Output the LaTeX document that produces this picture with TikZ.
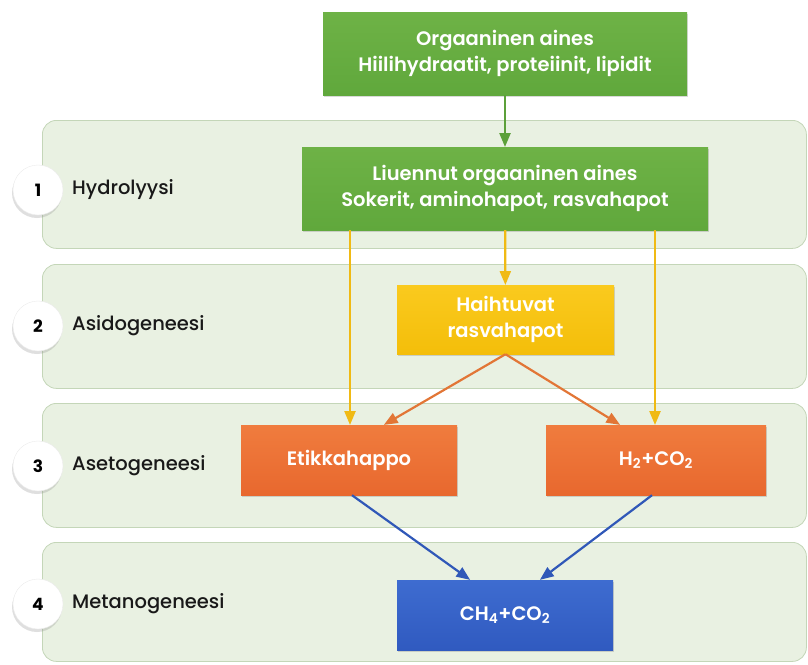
\documentclass[tikz,border=0pt]{standalone}
\usepackage{fontspec}
\setmainfont{Poppins}
\newfontfamily\medfont{Poppins Medium}
\newfontfamily\semifont{Poppins SemiBold}
\usepackage{tikz}
\usetikzlibrary{arrows,shapes,positioning,shadows}
\usepackage{xcolor}
\definecolor{bgband}{RGB}{233,241,226}
\definecolor{bgbandline}{RGB}{196,214,184}
\definecolor{bxgreen}{RGB}{96,168,60}
\definecolor{bxgreentop}{RGB}{110,178,70}
\definecolor{bxyellow}{RGB}{244,190,10}
\definecolor{bxyellowtop}{RGB}{250,202,30}
\definecolor{bxorange}{RGB}{232,104,46}
\definecolor{bxorangetop}{RGB}{240,124,62}
\definecolor{bxblue}{RGB}{48,90,192}
\definecolor{bxbluetop}{RGB}{62,108,208}
\definecolor{arrgreen}{RGB}{92,160,58}
\definecolor{arryellow}{RGB}{240,186,20}
\definecolor{arrorange}{RGB}{226,118,54}
\definecolor{arrblue}{RGB}{48,88,184}
\tikzstyle{stageband} = [rectangle, rounded corners=14pt, draw=bgbandline, fill=bgband, line width=0.8pt, anchor=north west]
\tikzstyle{stagenum} = [circle, minimum size=50pt, fill=white, draw=black!8, font=\fontsize{17}{19}\selectfont\bfseries, drop shadow={shadow xshift=-1pt, shadow yshift=-3pt, opacity=0.25}]
\tikzstyle{stagename} = [anchor=west, inner sep=0pt, text=black!90, font=\fontsize{19.5}{21}\medfont]
\tikzstyle{procbox} = [rectangle, text centered, align=center, text=white, font=\fontsize{19.5}{26}\semifont, drop shadow={shadow xshift=1pt, shadow yshift=-2pt, opacity=0.3}]
\tikzstyle{flow} = [line width=2.2pt, ->, >=triangle 45]

\begin{document}
\begin{tikzpicture}[x=1pt, y=1pt]
\useasboundingbox (0,0) rectangle (808,-664);
% stage bands
\node[stageband, minimum width=764pt, minimum height=128pt] (band1) at (42,-120) {};
\node[stageband, minimum width=764pt, minimum height=124pt] (band2) at (42,-264) {};
\node[stageband, minimum width=764pt, minimum height=124pt] (band3) at (42,-403) {};
\node[stageband, minimum width=764pt, minimum height=119pt] (band4) at (42,-542) {};
% stage numbers and names
\node[stagenum] (n1) at (38,-190) {1};
\node[stagenum] (n2) at (38,-326) {2};
\node[stagenum] (n3) at (38,-466) {3};
\node[stagenum] (n4) at (38,-604) {4};
\node[stagename] (l1) at (72,-190) {Hydrolyysi};
\node[stagename] (l2) at (72,-326) {Asidogeneesi};
\node[stagename] (l3) at (72,-466) {Asetogeneesi};
\node[stagename] (l4) at (72,-604) {Metanogeneesi};
% boxes
\node[procbox, minimum width=364pt, minimum height=83pt, top color=bxgreentop, bottom color=bxgreen] (organic) at (505,-53.5) {Orgaaninen aines\\Hiilihydraatit, proteiinit, lipidit};
\node[procbox, minimum width=406pt, minimum height=83pt, top color=bxgreentop, bottom color=bxgreen] (dissolved) at (505,-188.5) {Liuennut orgaaninen aines\\Sokerit, aminohapot, rasvahapot};
\node[procbox, minimum width=217pt, minimum height=69pt, top color=bxyellowtop, bottom color=bxyellow] (vfa) at (505.5,-319.5) {Haihtuvat\\rasvahapot};
\node[procbox, minimum width=216pt, minimum height=70pt, top color=bxorangetop, bottom color=bxorange] (acetic) at (349,-460) {Etikkahappo};
\node[procbox, minimum width=220pt, minimum height=70pt, top color=bxorangetop, bottom color=bxorange] (hydrogen) at (656,-460) {H\textsubscript{2}+CO\textsubscript{2}};
\node[procbox, minimum width=216pt, minimum height=70pt, top color=bxbluetop, bottom color=bxblue] (methane) at (505,-615) {CH\textsubscript{4}+CO\textsubscript{2}};
% arrows
\draw[flow, color=arrgreen] (organic) -- (dissolved);
\draw[flow, color=arryellow] (dissolved.south -| 350,0) -- (acetic.north -| 350,0);
\draw[flow, color=arryellow] (dissolved) -- (vfa);
\draw[flow, color=arryellow] (dissolved.south -| 655,0) -- (hydrogen.north -| 655,0);
\draw[flow, color=arrorange] (vfa.south) -- (acetic.north -| 384,0);
\draw[flow, color=arrorange] (vfa.south) -- (hydrogen.north -| 620,0);
\draw[flow, color=arrblue] (acetic.south -| 352,0) -- (methane.north -| 470,0);
\draw[flow, color=arrblue] (hydrogen.south -| 652,0) -- (methane.north -| 540,0);
\end{tikzpicture}
\end{document}
